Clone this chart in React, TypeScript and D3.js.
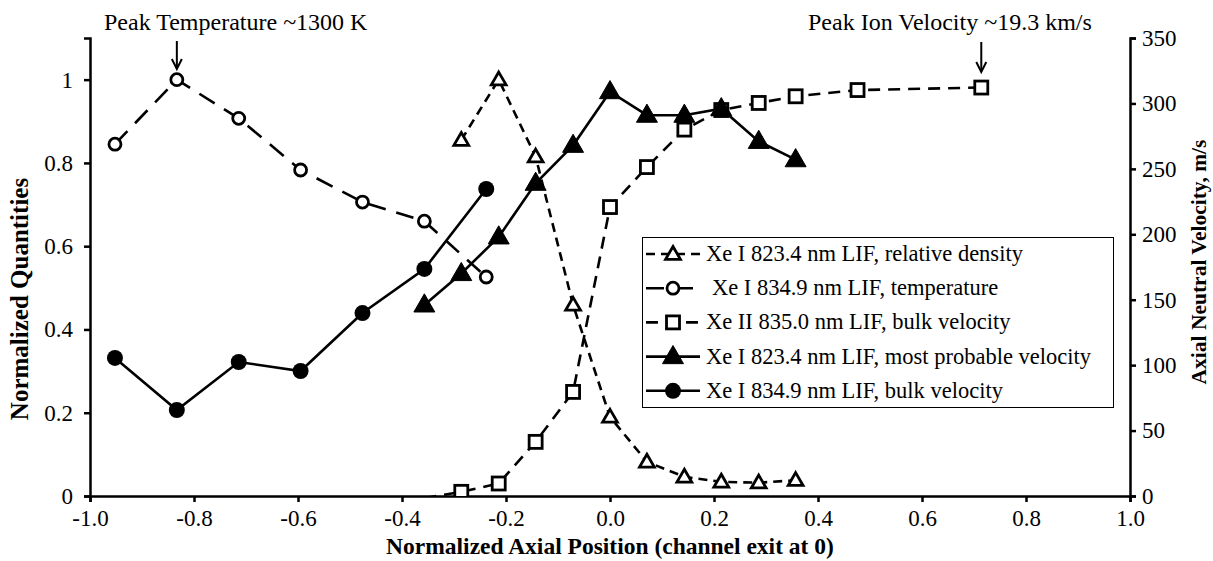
import React, { useRef, useEffect } from 'react';
import * as d3 from 'd3';

// positions (normalized axial position)
const farX = [-0.952, -0.833, -0.714, -0.595, -0.476, -0.357, -0.238];
const nearX = [-0.357, -0.286, -0.214, -0.143, -0.071, 0, 0.071, 0.143, 0.214, 0.286, 0.357];
const densityX = [-0.286, -0.214, -0.143, -0.071, 0, 0.071, 0.143, 0.214, 0.286, 0.357];
const ionX = [-0.357, -0.286, -0.214, -0.143, -0.071, 0, 0.071, 0.143, 0.214, 0.286, 0.357, 0.476, 0.714];

// series values
const relDensity = [0.855, 1.0, 0.815, 0.459, 0.19, 0.082, 0.046, 0.034, 0.032, 0.038];
const temperature = [0.845, 1.0, 0.907, 0.783, 0.706, 0.66, 0.526];
const ionBulkVel = [-0.005, 0.01, 0.03, 0.13, 0.25, 0.694, 0.79, 0.88, 0.927, 0.944, 0.96, 0.975, 0.981];
const mostProbVel = [146, 170, 198, 239, 268, 309, 291, 291, 296, 271, 257]; // m/s
const neutralBulkVel = [105.5, 65.7, 102.4, 95.5, 139.8, 173.5, 234.6]; // m/s

const xTicks = [-1, -0.8, -0.6, -0.4, -0.2, 0, 0.2, 0.4, 0.6, 0.8, 1];
const yLeftTicks = [0, 0.2, 0.4, 0.6, 0.8, 1];
const yRightTicks = [0, 50, 100, 150, 200, 250, 300, 350];

const legendLabels = [
  'Xe I 823.4 nm LIF, relative density',
  'Xe I 834.9 nm LIF, temperature',
  'Xe II 835.0 nm LIF, bulk velocity',
  'Xe I 823.4 nm LIF, most probable velocity',
  'Xe I 834.9 nm LIF, bulk velocity',
];

const FONT = '"Liberation Serif", "Times New Roman", serif';

const App = () => {
  const svgRef = useRef(null);

  useEffect(() => {
    const svg = d3.select(svgRef.current);
    svg.selectAll('*').remove();

    const margin = { top: 38, right: 83, bottom: 65, left: 90 };
    const W = 1213, H = 561;
    const width = W - margin.left - margin.right;
    const height = H - margin.top - margin.bottom;

    const x = d3.scaleLinear().domain([-1, 1]).range([margin.left, margin.left + width]);
    const yL = d3.scaleLinear().domain([0, 1.1]).range([margin.top + height, margin.top]);
    const yR = d3.scaleLinear().domain([0, 350]).range([margin.top + height, margin.top]);

    svg.append('defs').append('clipPath').attr('id', 'plotClip')
      .append('rect')
      .attr('x', margin.left).attr('y', margin.top - 20)
      .attr('width', width).attr('height', height + 20);

    // axes
    const axisStyle = (g) => {
      g.selectAll('path.domain').attr('stroke', '#000').attr('stroke-width', 2.5);
      g.selectAll('.tick line').attr('stroke', '#000').attr('stroke-width', 2.5);
      g.selectAll('.tick text').attr('fill', '#000').style('font-family', FONT).style('font-size', '23px');
    };
    const hyphen = (f) => (d) => f(d).replace('\u2212', '-');

    svg.append('g')
      .attr('transform', `translate(0,${margin.top + height})`)
      .call(d3.axisBottom(x).tickValues(xTicks).tickFormat(hyphen(d3.format('.1f'))).tickSizeOuter(0).tickSize(6).tickPadding(8))
      .call(axisStyle)
      .call(g => g.selectAll('.tick text').attr('dy', '0.71em'));

    svg.append('g')
      .attr('transform', `translate(${margin.left},0)`)
      .call(d3.axisLeft(yL).tickValues(yLeftTicks).tickFormat(d => d === 0 || d === 1 ? String(d) : d3.format('.1f')(d)).tickSizeOuter(0).tickSize(6).tickPadding(11))
      .call(axisStyle);

    svg.append('g')
      .attr('transform', `translate(${margin.left + width},0)`)
      .call(d3.axisRight(yR).tickValues(yRightTicks).tickSizeOuter(0).tickSize(6).tickPadding(6))
      .call(axisStyle);

    // axis titles
    svg.append('text')
      .attr('x', margin.left + width / 2).attr('y', 554)
      .attr('text-anchor', 'middle')
      .style('font-family', FONT).style('font-size', '23.5px').style('font-weight', 'bold')
      .text('Normalized Axial Position (channel exit at 0)');

    svg.append('text')
      .attr('transform', 'translate(28,299) rotate(-90)')
      .attr('text-anchor', 'middle')
      .style('font-family', FONT).style('font-size', '25px').style('font-weight', 'bold')
      .text('Normalized Quantities');

    svg.append('text')
      .attr('transform', 'translate(1206,262) rotate(-90)')
      .attr('text-anchor', 'middle')
      .style('font-family', FONT).style('font-size', '21.5px').style('font-weight', 'bold')
      .text('Axial Neutral Velocity, m/s');

    const tri = d3.symbol().type(d3.symbolTriangle);
    const drawMarker = (g, kind, cx, cy) => {
      if (kind === 'openTri') {
        g.append('path').attr('d', tri.size(95)()).attr('transform', `translate(${cx},${cy + 1})`)
          .attr('fill', '#fff').attr('stroke', '#000').attr('stroke-width', 2.8);
      } else if (kind === 'filledTri') {
        g.append('path').attr('d', tri.size(190)()).attr('transform', `translate(${cx},${cy + 1})`)
          .attr('fill', '#000').attr('stroke', '#000').attr('stroke-width', 1);
      } else if (kind === 'openCircle') {
        g.append('circle').attr('cx', cx).attr('cy', cy).attr('r', 6)
          .attr('fill', '#fff').attr('stroke', '#000').attr('stroke-width', 2.8);
      } else if (kind === 'filledCircle') {
        g.append('circle').attr('cx', cx).attr('cy', cy).attr('r', 8).attr('fill', '#000');
      } else if (kind === 'openSquare') {
        g.append('rect').attr('x', cx - 6.5).attr('y', cy - 6.5).attr('width', 13).attr('height', 13)
          .attr('fill', '#fff').attr('stroke', '#000').attr('stroke-width', 2.8);
      }
    };

    const series = [
      { xs: densityX, ys: relDensity, y: yL, dash: '9,6', marker: 'openTri' },
      { xs: farX, ys: temperature, y: yL, dash: '18,11', marker: 'openCircle' },
      { xs: ionX, ys: ionBulkVel, y: yL, dash: '12,8', marker: 'openSquare' },
      { xs: nearX, ys: mostProbVel, y: yR, dash: null, marker: 'filledTri' },
      { xs: farX, ys: neutralBulkVel, y: yR, dash: null, marker: 'filledCircle' },
    ];

    const plot = svg.append('g').attr('clip-path', 'url(#plotClip)');
    series.forEach(s => {
      const pts = s.xs.map((v, i) => [v, s.ys[i]]);
      const line = d3.line().x(d => x(d[0])).y(d => s.y(d[1]));
      const p = plot.append('path').datum(pts)
        .attr('fill', 'none').attr('stroke', '#000').attr('stroke-width', 2.6)
        .attr('d', line);
      if (s.dash) p.attr('stroke-dasharray', s.dash);
      pts.filter(d => d[1] >= 0).forEach(d => drawMarker(plot, s.marker, x(d[0]), s.y(d[1])));
    });

    // annotations
    const ann = (label, tx, ax, y0, y1) => {
      svg.append('text').attr('x', tx).attr('y', 30)
        .style('font-family', FONT).style('font-size', '24px').text(label);
      svg.append('line').attr('x1', ax).attr('x2', ax).attr('y1', y0).attr('y2', y1 - 2)
        .attr('stroke', '#000').attr('stroke-width', 2);
      svg.append('path').attr('d', `M${ax - 5},${y1 - 10}L${ax},${y1}L${ax + 5},${y1 - 10}`)
        .attr('fill', 'none').attr('stroke', '#000').attr('stroke-width', 2);
    };
    ann('Peak Temperature ~1300 K', 104, x(-0.833), 41, 69);
    ann('Peak Ion Velocity ~19.3 km/s', 808, x(0.714), 42, 72);

    // legend
    const lg = svg.append('g');
    lg.append('rect').attr('x', 642.5).attr('y', 237.5).attr('width', 471).attr('height', 170)
      .attr('fill', '#fff').attr('stroke', '#000').attr('stroke-width', 1);
    series.forEach((s, i) => {
      const cy = 254 + i * 34.2;
      const l = lg.append('line').attr('x1', 646).attr('x2', 700).attr('y1', cy).attr('y2', cy)
        .attr('stroke', '#000').attr('stroke-width', 2.6);
      if (s.dash) l.attr('stroke-dasharray', s.dash);
      drawMarker(lg, s.marker, 673, cy);
      lg.append('text').attr('x', i === 1 ? 712 : 706).attr('y', cy + 7)
        .style('font-family', FONT).style('font-size', '22.5px').text(legendLabels[i]);
    });
  }, []);

  return (
    <svg ref={svgRef} width={1213} height={561}
      style={{ position: 'absolute', left: 0, top: 0, background: '#fff' }} />
  );
};

export default App;
